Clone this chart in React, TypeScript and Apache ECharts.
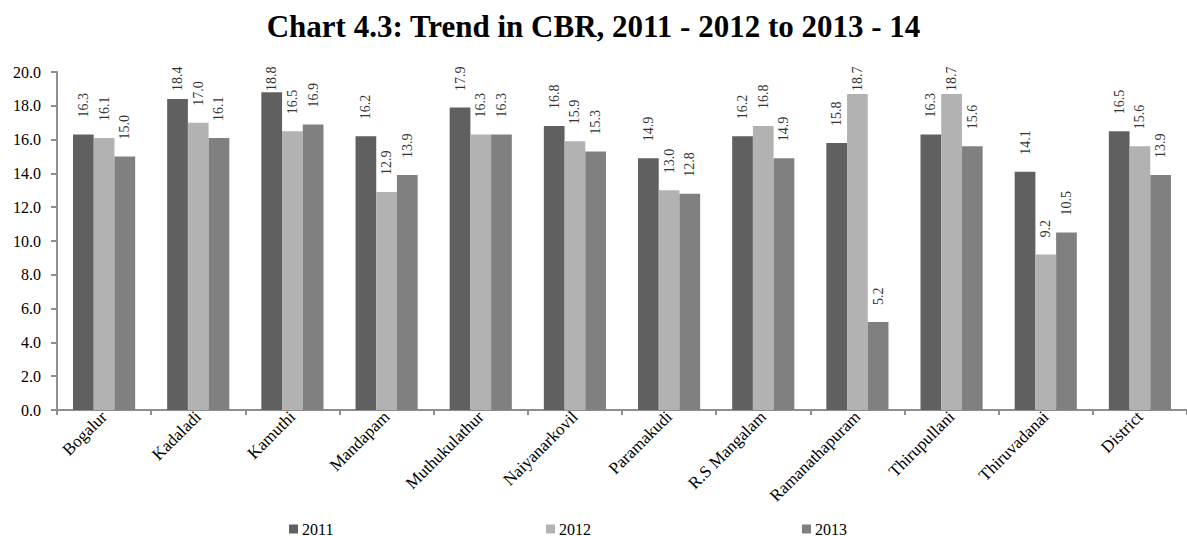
import React, { useEffect, useRef } from "react";
import * as echarts from "echarts";

const categories = [
  "Bogalur",
  "Kadaladi",
  "Kamuthi",
  "Mandapam",
  "Muthukulathur",
  "Naiyanarkovil",
  "Paramakudi",
  "R.S Mangalam",
  "Ramanathapuram",
  "Thirupullani",
  "Thiruvadanai",
  "District",
];

const cbr2011 = [16.3, 18.4, 18.8, 16.2, 17.9, 16.8, 14.9, 16.2, 15.8, 16.3, 14.1, 16.5];
const cbr2012 = [16.1, 17.0, 16.5, 12.9, 16.3, 15.9, 13.0, 16.8, 18.7, 18.7, 9.2, 15.6];
const cbr2013 = [15.0, 16.1, 16.9, 13.9, 16.3, 15.3, 12.8, 14.9, 5.2, 15.6, 10.5, 13.9];

const seriesNames = ["2011", "2012", "2013"];
const seriesColors = ["#606060", "#b2b2b2", "#808080"];

const Y_MIN = 0;
const Y_MAX = 20;
const Y_STEP = 2;

const FONT = "'Liberation Serif', 'Times New Roman', serif";

// plot area geometry
const GRID_LEFT = 57;
const GRID_TOP = 72;
const GRID_HEIGHT = 338;
const GRID_WIDTH = 1131;

// value labels are kept from running above the plot area
const LABEL_GAP = 17;
const LABEL_LEN = 23;
const LABEL_CEIL = 68;

function withLabels(values: number[]) {
  return values.map((v) => {
    const top = GRID_TOP + (1 - (v - Y_MIN) / (Y_MAX - Y_MIN)) * GRID_HEIGHT;
    const distance = Math.max(0, Math.min(LABEL_GAP, top - LABEL_CEIL - LABEL_LEN));
    return { value: v, label: { distance } };
  });
}

export default function App() {
  const ref = useRef<HTMLDivElement>(null);

  useEffect(() => {
    if (!ref.current) return;
    const chart = echarts.init(ref.current, null, { renderer: "svg" });
    const data = [cbr2011, cbr2012, cbr2013];
    const legendLeft = [289, 546, 802];

    chart.setOption({
      animation: false,
      backgroundColor: "#ffffff",
      title: {
        text: "Chart 4.3: Trend in CBR, 2011 - 2012 to 2013 - 14",
        left: "center",
        top: 11,
        padding: 0,
        textStyle: {
          fontFamily: FONT,
          fontWeight: "bold",
          fontSize: 31,
          color: "#000000",
        },
      },
      legend: seriesNames.map((name, i) => ({
        data: [name],
        left: legendLeft[i],
        top: 521,
        padding: 0,
        icon: "rect",
        itemWidth: 9,
        itemHeight: 9,
        itemGap: 4,
        textStyle: { fontFamily: FONT, fontSize: 16, color: "#000000", padding: [0, 0, 0, -1] },
      })),
      grid: {
        left: GRID_LEFT,
        top: GRID_TOP,
        width: GRID_WIDTH,
        height: GRID_HEIGHT,
        containLabel: false,
      },
      xAxis: {
        type: "category",
        data: categories,
        axisLine: { lineStyle: { color: "#8e8e8e", width: 2 } },
        axisTick: { show: true, length: 5, lineStyle: { color: "#8e8e8e", width: 2 } },
        axisLabel: {
          rotate: 45,
          margin: 4,
          fontFamily: FONT,
          fontSize: 17,
          color: "#000000",
          interval: 0,
        },
      },
      yAxis: {
        type: "value",
        min: Y_MIN,
        max: Y_MAX,
        interval: Y_STEP,
        splitLine: { show: false },
        axisLine: { show: true, lineStyle: { color: "#8e8e8e", width: 2 } },
        axisTick: { show: true, length: 6, lineStyle: { color: "#8e8e8e", width: 2 } },
        axisLabel: {
          margin: 16,
          fontFamily: FONT,
          fontSize: 16,
          color: "#000000",
          formatter: (v: number) => v.toFixed(1),
        },
      },
      series: seriesNames.map((name, i) => ({
        name,
        type: "bar",
        data: withLabels(data[i]),
        barGap: "0%",
        barCategoryGap: "34%",
        itemStyle: { color: seriesColors[i] },
        label: {
          show: true,
          position: "top",
          rotate: 90,
          align: "left",
          verticalAlign: "middle",
          fontFamily: FONT,
          fontSize: 14,
          color: "#333333",
          formatter: (p: any) => Number(p.value).toFixed(1),
        },
      })),
    });

    return () => chart.dispose();
  }, []);

  return (
    <div
      ref={ref}
      style={{ position: "fixed", left: 0, top: 0, width: 1187, height: 536, background: "#fff" }}
    />
  );
}
